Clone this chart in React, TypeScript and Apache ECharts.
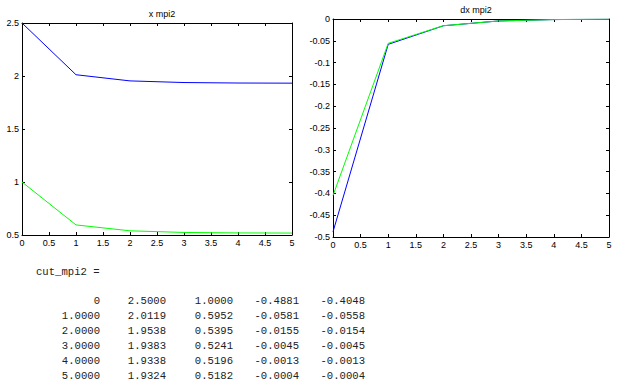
import React, { useEffect, useRef } from "react";
import * as echarts from "echarts";

const steps = [0, 1, 2, 3, 4, 5];
const xBlue = [2.5, 2.0119, 1.9538, 1.9383, 1.9338, 1.9324];
const xGreen = [1.0, 0.5952, 0.5395, 0.5241, 0.5196, 0.5182];
const dxBlue = [-0.4881, -0.0581, -0.0155, -0.0045, -0.0013, -0.0004];
const dxGreen = [-0.4048, -0.0558, -0.0154, -0.0045, -0.0013, -0.0004];
const leftTitle = "x mpi2";
const rightTitle = "dx mpi2";
const tableName = "cut_mpi2 =";

const fmtNum = (v: number) => (v === 0 ? "0" : v.toFixed(4));

export default function App() {
  const ref = useRef<HTMLDivElement>(null);
  useEffect(() => {
    if (!ref.current) return;
    const chart = echarts.init(ref.current, undefined, { renderer: "svg" });
    const tickFont = { fontFamily: "Liberation Sans, Arial, sans-serif", fontSize: 9, color: "#000" };
    const lineStyle = { color: "#000", width: 1 };
    const axisLine = { show: true, onZero: false, lineStyle };
    const tickStyle = { show: true, inside: true, length: 3, lineStyle };
    const fmt = (v: number) => String(+v.toFixed(2));

    const xAxes: any[] = [];
    const yAxes: any[] = [];
    [0, 1].forEach((g) => {
      xAxes.push({
        type: "value", gridIndex: g, min: 0, max: 5, interval: 0.5, position: "bottom",
        axisLine, axisTick: tickStyle,
        axisLabel: { ...tickFont, margin: 3, formatter: fmt, showMinLabel: true, showMaxLabel: true },
        splitLine: { show: false },
      });
      xAxes.push({
        type: "value", gridIndex: g, min: 0, max: 5, interval: 0.5, position: "top",
        axisLine, axisTick: tickStyle,
        axisLabel: { show: false }, splitLine: { show: false },
      });
    });
    const yRanges = [
      { min: 0.5, max: 2.5, interval: 0.5 },
      { min: -0.5, max: 0, interval: 0.05 },
    ];
    yRanges.forEach((r, g) => {
      yAxes.push({
        type: "value", gridIndex: g, ...r, position: "left",
        axisLine, axisTick: tickStyle,
        axisLabel: { ...tickFont, margin: 3, formatter: fmt, showMinLabel: true, showMaxLabel: true },
        splitLine: { show: false },
      });
      yAxes.push({
        type: "value", gridIndex: g, ...r, position: "right",
        axisLine, axisTick: tickStyle,
        axisLabel: { show: false }, splitLine: { show: false },
      });
    });

    const mk = (data: number[], color: string, g: number) => ({
      type: "line",
      xAxisIndex: g * 2,
      yAxisIndex: g * 2,
      data: steps.map((s, i) => [s, data[i]]),
      showSymbol: false,
      symbol: "none",
      lineStyle: { color, width: 1 },
      itemStyle: { color },
      silent: true,
    });

    const rows = steps.map((s, i) => [s, xBlue[i], xGreen[i], dxBlue[i], dxGreen[i]]);
    const colRight = [100, 166, 233, 299, 365];
    const mono = "Liberation Mono, Courier New, monospace";
    const tableTexts: any[] = [
      {
        type: "text", x: 36, y: 272,
        style: { text: tableName, font: `10.6px ${mono}`, fill: "#222", verticalAlign: "middle" },
      },
    ];
    rows.forEach((row, ri) => {
      row.forEach((v, ci) => {
        tableTexts.push({
          type: "text",
          x: colRight[ci],
          y: 301 + ri * 14.95,
          style: {
            text: fmtNum(v),
            font: `10.6px ${mono}`,
            fill: "#222",
            align: "right",
            verticalAlign: "middle",
          },
        });
      });
    });

    chart.setOption({
      animation: false,
      backgroundColor: "#fff",
      title: [
        { text: leftTitle, left: 157, top: 4, textAlign: "center", textStyle: { ...tickFont, fontWeight: "normal" } },
        { text: rightTitle, left: 471, top: 0, textAlign: "center", textStyle: { ...tickFont, fontWeight: "normal" } },
      ],
      grid: [
        { left: 22, top: 23, width: 270, height: 212 },
        { left: 333, top: 19, width: 276, height: 218 },
      ],
      xAxis: xAxes,
      yAxis: yAxes,
      series: [
        mk(xBlue, "#0000ff", 0),
        mk(xGreen, "#00ff00", 0),
        mk(dxBlue, "#0000ff", 1),
        mk(dxGreen, "#00ff00", 1),
      ],
      graphic: tableTexts,
    });
    return () => chart.dispose();
  }, []);
  return (
    <div
      ref={ref}
      style={{ position: "fixed", left: 0, top: 0, width: 619, height: 388 }}
    />
  );
}
